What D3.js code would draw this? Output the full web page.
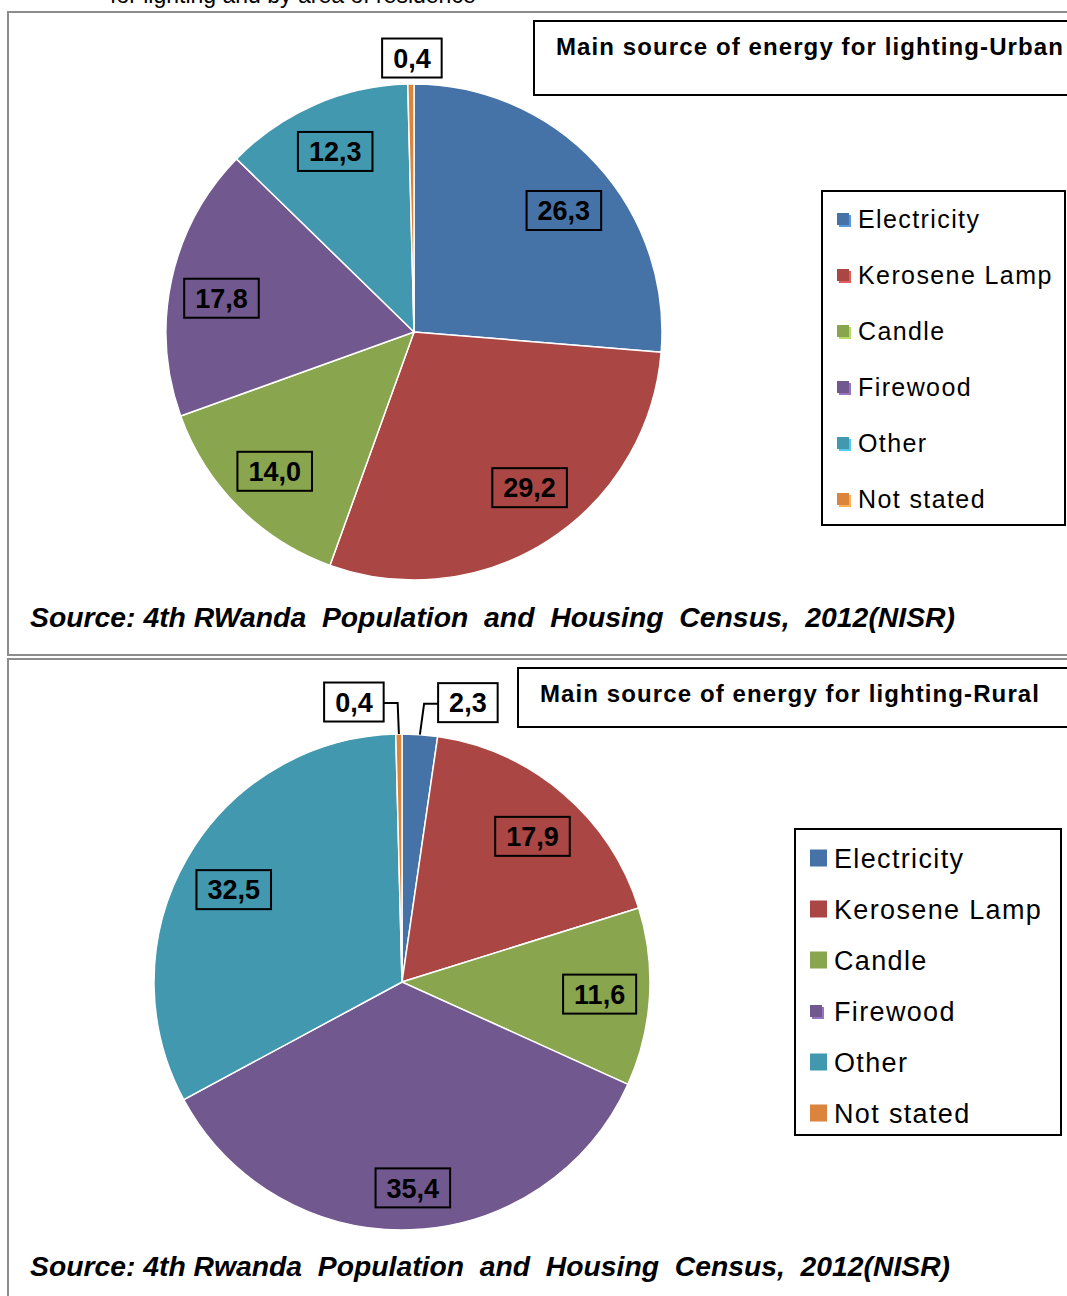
<!DOCTYPE html>
<html>
<head>
<meta charset="utf-8">
<script src="https://cdn.jsdelivr.net/npm/d3@7"></script>
<style>
  body { margin: 0; background: #fff; }
  svg { display: block; font-family: "Liberation Sans", Arial, sans-serif; }
</style>
</head>
<body>
<div id="chart"></div>
<script>
// Categories and values (percent) for each area of residence.
const categories = ["Electricity", "Kerosene Lamp", "Candle", "Firewood", "Other", "Not stated"];
const urbanValues = [26.3, 29.2, 14.0, 17.8, 12.3, 0.4];
const ruralValues = [2.3, 17.9, 11.6, 35.4, 32.5, 0.4];
const sliceColors = ["#4572a7", "#aa4643", "#89a54e", "#71588f", "#4198af", "#db843d"];

const W = 1067, H = 1296;

const svg = d3.select("#chart").append("svg")
  .attr("width", W)
  .attr("height", H);

// clipped caption line from the page above
svg.append("text")
  .attr("x", 110).attr("y", 3)
  .style("font-size", "23px")
  .text("for lighting and by area of residence");

const fmt = (v) => d3.format(".1f")(v).replace(".", ",");
const color = d3.scaleOrdinal().domain(categories).range(sliceColors);

// panel settings: position + layout tweaks only
const panels = [
  {
    values: urbanValues,
    frame: { y: 12, h: 643 },
    cx: 414, cy: 332, r: 248, labelR: 197,
    // small nudges of inside labels (Excel best-fit placement)
    nudge: { 0: [5, 12], 1: [9, -10], 3: [0, 8] },
    title: "Main source of energy for lighting-Urban",
    titleBox: { x: 534, y: 21, h: 74 }, titleY: 55, titleX: 556,
    // outside labels: offset of box centre from the rim point
    outside: { 5: { dx: 1, dy: -26, leader: false } },
    legend: { x: 822, y: 191, w: 243, h: 334, first: 219, step: 56, sw: 12, shadow: true, font: 25, ls: 1.4, tx: 21 },
    source: "Source: 4th RWanda  Population  and  Housing  Census,  2012(NISR)",
    sourceY: 627, sourceLen: 925
  },
  {
    values: ruralValues,
    frame: { y: 659, h: 700 },
    cx: 402, cy: 982, r: 248, labelR: 198,
    nudge: { 1: [2, 5], 3: [4, 8], 4: [3, 7] },
    title: "Main source of energy for lighting-Rural",
    titleBox: { x: 518, y: 668, h: 59 }, titleY: 702, titleX: 540,
    outside: {
      0: { dx: 48, dy: -32, leader: true },
      5: { dx: -45, dy: -32, leader: true }
    },
    legend: { x: 795, y: 829, w: 266, h: 306, first: 858, step: 51, sw: 17, shadow: false, font: 27, ls: 1.35, tx: 24 },
    source: "Source: 4th Rwanda  Population  and  Housing  Census,  2012(NISR)",
    sourceY: 1276, sourceLen: 920
  }
];

panels.forEach(drawPanel);

function drawPanel(p) {
  // grey frame
  svg.append("rect")
    .attr("x", 8).attr("y", p.frame.y)
    .attr("width", W + 20).attr("height", p.frame.h)
    .attr("fill", "none")
    .attr("stroke", "#8c8c8c")
    .attr("stroke-width", 2);

  const g = svg.append("g")
    .attr("transform", "translate(" + p.cx + "," + p.cy + ")");

  const pie = d3.pie().sort(null).value((d) => d.value);
  const data = pie(categories.map((c, i) => ({ name: c, value: p.values[i], i: i })));

  const arc = d3.arc().innerRadius(0).outerRadius(p.r);
  const labelArc = d3.arc().innerRadius(p.labelR).outerRadius(p.labelR);

  g.selectAll("path.slice")
    .data(data)
    .enter()
    .append("path")
    .attr("class", "slice")
    .attr("d", arc)
    .attr("fill", (d) => color(d.data.name))
    .attr("stroke", "#fff")
    .attr("stroke-width", 1.5);

  // data labels
  data.forEach(function (d) {
    const i = d.data.i;
    const out = p.outside[i];
    const mid = (d.startAngle + d.endAngle) / 2;
    let cx, cy, rim;
    if (out) {
      rim = [Math.sin(mid) * p.r, -Math.cos(mid) * p.r];
      cx = rim[0] + out.dx;
      cy = rim[1] + out.dy;
    } else {
      const c = labelArc.centroid(d);
      const n = p.nudge[i] || [0, 0];
      cx = c[0] + n[0];
      cy = c[1] + n[1];
    }

    const lg = g.append("g");
    const rect = lg.append("rect");
    const txt = lg.append("text")
      .attr("x", cx).attr("y", cy)
      .attr("dy", "0.36em")
      .attr("text-anchor", "middle")
      .style("font-size", "27px")
      .style("font-weight", "bold")
      .text(fmt(d.data.value));

    const tw = txt.node().getComputedTextLength();
    const bw = tw + 22, bh = 39;
    rect.attr("x", cx - bw / 2).attr("y", cy - bh / 2)
      .attr("width", bw).attr("height", bh)
      .attr("fill", out ? "#fff" : "none")
      .attr("stroke", "#000")
      .attr("stroke-width", 2);

    if (out && out.leader) {
      // elbow leader from box side to slice rim
      const side = rim[0] > cx ? 1 : -1;
      const x0 = cx + side * bw / 2;
      const ex = x0 + side * 14;
      lg.insert("path", "rect")
        .attr("d", "M" + x0 + "," + (cy + 1) + "H" + ex + "L" + rim[0] + "," + rim[1])
        .attr("fill", "none")
        .attr("stroke", "#000")
        .attr("stroke-width", 2);
    }
  });

  // title box
  svg.append("rect")
    .attr("x", p.titleBox.x).attr("y", p.titleBox.y)
    .attr("width", W).attr("height", p.titleBox.h)
    .attr("fill", "#fff")
    .attr("stroke", "#000")
    .attr("stroke-width", 2);
  svg.append("text")
    .attr("x", p.titleX).attr("y", p.titleY)
    .style("font-size", "24px")
    .style("font-weight", "bold")
    .style("letter-spacing", "1.1px")
    .text(p.title);

  // legend
  const L = p.legend;
  svg.append("rect")
    .attr("x", L.x).attr("y", L.y)
    .attr("width", L.w).attr("height", L.h)
    .attr("fill", "#fff")
    .attr("stroke", "#000")
    .attr("stroke-width", 2);

  const items = svg.append("g").selectAll("g")
    .data(categories)
    .enter()
    .append("g")
    .attr("transform", (d, i) => "translate(" + (L.x + 15) + "," + (L.first + i * L.step) + ")");

  items.each(function (d) {
    const it = d3.select(this);
    // rural legend keeps the small bevelled key only for Firewood
    const small = L.shadow || d === "Firewood";
    const s = small ? 12 : L.sw;
    if (small) {
      it.append("rect")
        .attr("x", 2).attr("y", -s / 2 + 2)
        .attr("width", s).attr("height", s)
        .attr("fill", d3.color(color(d)).brighter(0.8));
    }
    it.append("rect")
      .attr("x", 0).attr("y", -s / 2)
      .attr("width", s).attr("height", s)
      .attr("fill", color(d));
  });

  items.append("text")
    .attr("x", L.tx)
    .attr("dy", "0.36em")
    .style("font-size", L.font + "px")
    .style("letter-spacing", L.ls + "px")
    .text((d) => d);

  // source note
  svg.append("text")
    .attr("x", 30).attr("y", p.sourceY)
    .attr("textLength", p.sourceLen)
    .attr("lengthAdjust", "spacingAndGlyphs")
    .style("font-size", "27px")
    .style("font-weight", "bold")
    .style("font-style", "italic")
    .style("white-space", "pre")
    .text(p.source);
}
</script>
</body>
</html>
